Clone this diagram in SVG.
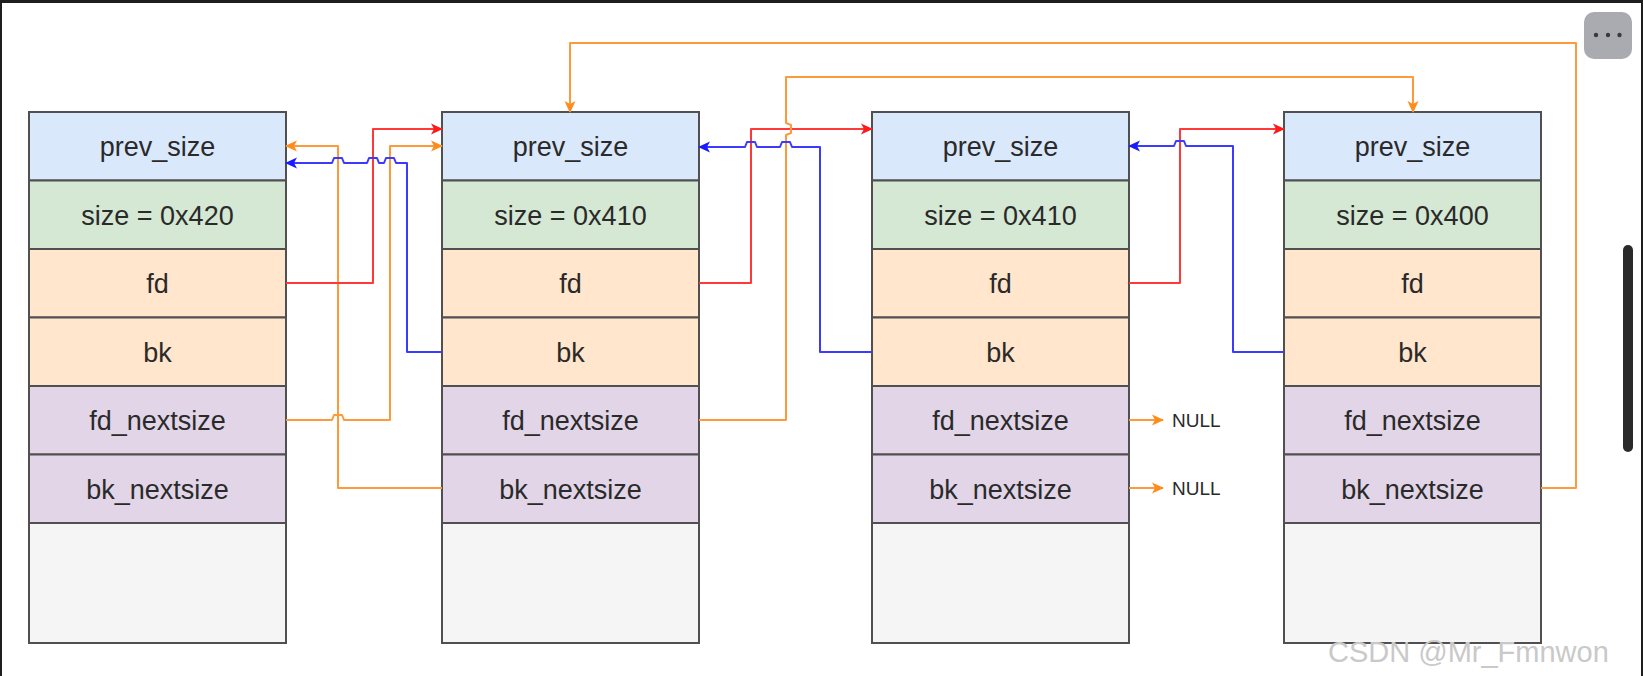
<svg xmlns="http://www.w3.org/2000/svg" width="1643" height="676" viewBox="0 0 1643 676">
<style>
.row{stroke:#505050;stroke-width:2}
.pv{fill:#dae8fc}.sz{fill:#d5e8d4}.fb{fill:#ffe6cc}.ns{fill:#e1d5e7}.em{fill:#f5f5f5}
.lbl{font-family:"Liberation Sans",Arial,sans-serif;font-size:27px;fill:#2a2a2a;text-anchor:middle}
.c{fill:none;stroke-width:2;stroke-linejoin:round}
.r{stroke:#ff3838}.b{stroke:#3b3bff}.o{stroke:#ff9a3c}
</style>
<defs>
<marker id="ar" viewBox="0 0 12 12" markerWidth="12" markerHeight="12" refX="11" refY="6" orient="auto" markerUnits="userSpaceOnUse"><path d="M0,0.5 L12,6 L0,11.5 L3,6 z" fill="#ff1a1a"/></marker>
<marker id="ab" viewBox="0 0 12 12" markerWidth="12" markerHeight="12" refX="11" refY="6" orient="auto" markerUnits="userSpaceOnUse"><path d="M0,0.5 L12,6 L0,11.5 L3,6 z" fill="#1a1aff"/></marker>
<marker id="ao" viewBox="0 0 12 12" markerWidth="12" markerHeight="12" refX="11" refY="6" orient="auto" markerUnits="userSpaceOnUse"><path d="M0,0.5 L12,6 L0,11.5 L3,6 z" fill="#ff8c1a"/></marker>
</defs>
<rect x="0" y="0" width="1643" height="676" fill="#ffffff"/>
<rect x="0" y="0" width="1643" height="3" fill="#1e1e1e"/>
<rect x="0" y="0" width="2" height="676" fill="#1e1e1e"/>
<rect x="1641" y="0" width="2" height="676" fill="#1e1e1e"/>

<g id="chunk1">
<rect class="row pv" x="29" y="112" width="257" height="68.5"/>
<rect class="row sz" x="29" y="180.5" width="257" height="68.5"/>
<rect class="row fb" x="29" y="249" width="257" height="68.5"/>
<rect class="row fb" x="29" y="317.5" width="257" height="68.5"/>
<rect class="row ns" x="29" y="386" width="257" height="68.5"/>
<rect class="row ns" x="29" y="454.5" width="257" height="68.5"/>
<rect class="row em" x="29" y="523" width="257" height="120"/>
<text class="lbl" x="157.5" y="156">prev_size</text>
<text class="lbl" x="157.5" y="224.5">size = 0x420</text>
<text class="lbl" x="157.5" y="293">fd</text>
<text class="lbl" x="157.5" y="361.5">bk</text>
<text class="lbl" x="157.5" y="430">fd_nextsize</text>
<text class="lbl" x="157.5" y="498.5">bk_nextsize</text>
</g>

<g id="chunk2">
<rect class="row pv" x="442" y="112" width="257" height="68.5"/>
<rect class="row sz" x="442" y="180.5" width="257" height="68.5"/>
<rect class="row fb" x="442" y="249" width="257" height="68.5"/>
<rect class="row fb" x="442" y="317.5" width="257" height="68.5"/>
<rect class="row ns" x="442" y="386" width="257" height="68.5"/>
<rect class="row ns" x="442" y="454.5" width="257" height="68.5"/>
<rect class="row em" x="442" y="523" width="257" height="120"/>
<text class="lbl" x="570.5" y="156">prev_size</text>
<text class="lbl" x="570.5" y="224.5">size = 0x410</text>
<text class="lbl" x="570.5" y="293">fd</text>
<text class="lbl" x="570.5" y="361.5">bk</text>
<text class="lbl" x="570.5" y="430">fd_nextsize</text>
<text class="lbl" x="570.5" y="498.5">bk_nextsize</text>
</g>

<g id="chunk3">
<rect class="row pv" x="872" y="112" width="257" height="68.5"/>
<rect class="row sz" x="872" y="180.5" width="257" height="68.5"/>
<rect class="row fb" x="872" y="249" width="257" height="68.5"/>
<rect class="row fb" x="872" y="317.5" width="257" height="68.5"/>
<rect class="row ns" x="872" y="386" width="257" height="68.5"/>
<rect class="row ns" x="872" y="454.5" width="257" height="68.5"/>
<rect class="row em" x="872" y="523" width="257" height="120"/>
<text class="lbl" x="1000.5" y="156">prev_size</text>
<text class="lbl" x="1000.5" y="224.5">size = 0x410</text>
<text class="lbl" x="1000.5" y="293">fd</text>
<text class="lbl" x="1000.5" y="361.5">bk</text>
<text class="lbl" x="1000.5" y="430">fd_nextsize</text>
<text class="lbl" x="1000.5" y="498.5">bk_nextsize</text>
</g>

<g id="chunk4">
<rect class="row pv" x="1284" y="112" width="257" height="68.5"/>
<rect class="row sz" x="1284" y="180.5" width="257" height="68.5"/>
<rect class="row fb" x="1284" y="249" width="257" height="68.5"/>
<rect class="row fb" x="1284" y="317.5" width="257" height="68.5"/>
<rect class="row ns" x="1284" y="386" width="257" height="68.5"/>
<rect class="row ns" x="1284" y="454.5" width="257" height="68.5"/>
<rect class="row em" x="1284" y="523" width="257" height="120"/>
<text class="lbl" x="1412.5" y="156">prev_size</text>
<text class="lbl" x="1412.5" y="224.5">size = 0x400</text>
<text class="lbl" x="1412.5" y="293">fd</text>
<text class="lbl" x="1412.5" y="361.5">bk</text>
<text class="lbl" x="1412.5" y="430">fd_nextsize</text>
<text class="lbl" x="1412.5" y="498.5">bk_nextsize</text>
</g>

<g id="null1">
<text x="1172" y="427" font-family="Liberation Sans,Arial,sans-serif" font-size="19" fill="#2a2a2a">NULL</text>
</g>
<g id="null2">
<text x="1172" y="495" font-family="Liberation Sans,Arial,sans-serif" font-size="19" fill="#2a2a2a">NULL</text>
</g>

<g id="connectors">
<path class="c o" d="M442,488 H338 V146 H286" marker-end="url(#ao)"/>
<path class="c o" d="M286,420 H332 l2,-5 h8 l2,5 H390 V146 H442" marker-end="url(#ao)"/>
<path class="c r" d="M286,283 H373 V129 H442" marker-end="url(#ar)"/>
<path class="c b" d="M442,352 H407 V163 H396 l-2,-5 h-8 l-2,5 H379 l-2,-5 h-8 l-2,5 H344 l-2,-5 h-8 l-2,5 H286" marker-end="url(#ab)"/>

<path class="c r" d="M699,283 H751 V129 H872" marker-end="url(#ar)"/>
<path class="c o" d="M699,420 H786 V135 l5,-2 v-8 l-5,-2 V77 H1413 V112" marker-end="url(#ao)"/>
<path class="c b" d="M872,352 H820 V147 H792 l-2,-5 h-8 l-2,5 H757 l-2,-5 h-8 l-2,5 H699" marker-end="url(#ab)"/>

<path class="c r" d="M1129,283 H1180 V129 H1284" marker-end="url(#ar)"/>
<path class="c b" d="M1284,352 H1233 V146 H1186 l-2,-5 h-8 l-2,5 H1129" marker-end="url(#ab)"/>

<path class="c o" d="M1541,488 H1576 V43 H570 V112" marker-end="url(#ao)"/>

<path class="c o" d="M1129,420 H1163" marker-end="url(#ao)"/>
<path class="c o" d="M1129,488 H1163" marker-end="url(#ao)"/>
</g>

<text x="1328" y="662" font-family="Liberation Sans,Arial,sans-serif" font-size="29" fill="#c9c9c9">CSDN @Mr_Fmnwon</text>

<rect x="1584" y="12" width="48" height="47" rx="10" fill="#a9abb0"/>
<circle cx="1596" cy="35" r="2.2" fill="#3a3a3a"/>
<circle cx="1608" cy="35" r="2.2" fill="#3a3a3a"/>
<circle cx="1619.5" cy="35" r="2.2" fill="#3a3a3a"/>
<rect x="1623" y="245" width="10" height="207" rx="5" fill="#2a2a2a"/>
</svg>
